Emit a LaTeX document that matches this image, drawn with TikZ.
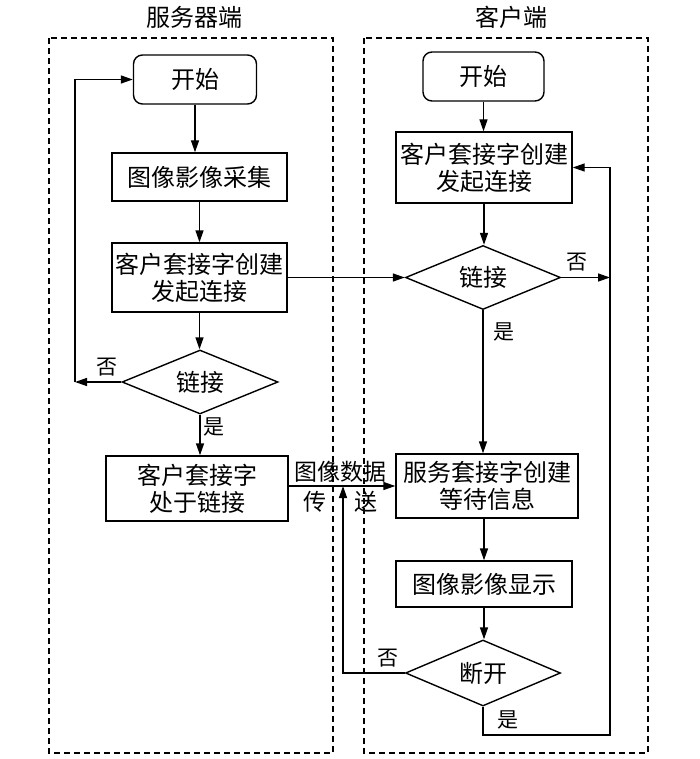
\documentclass[tikz,border=0pt]{standalone}
\usepackage{fontspec}
\setmainfont{Noto Sans CJK SC}
\usetikzlibrary{arrows.meta,shapes.geometric}
\begin{document}
\begin{tikzpicture}[x=1pt,y=-1pt,
  every node/.style={font=\fontsize{24}{27}\selectfont},
  box/.style={draw,line width=1.4pt,inner sep=0pt,align=center},
  startbox/.style={box,rounded corners=9pt},
  dec/.style={draw,line width=1.4pt,diamond,inner sep=0pt,aspect=2.4},
  lbl/.style={font=\fontsize{21}{24}\selectfont,inner sep=0pt},
  conn/.style={line width=1.4pt,-{Triangle[length=12pt,width=8pt]}},
  frame/.style={line width=1.5pt,dash pattern=on 6pt off 4pt}]
\useasboundingbox (0,0) rectangle (700,759);
% frames
\draw[frame] (49,38) rectangle (333,753);
\draw[frame] (364,38) rectangle (648,753);
\node (t1) at (194,17) {服务器端};
\node (t2) at (511,17) {客户端};
% left column
\node[startbox,minimum width=123pt,minimum height=49pt] (s1) at (195,79.5) {开始};
\node[box,minimum width=175pt,minimum height=48pt] (b1) at (199.5,177) {图像影像采集};
\node[box,minimum width=175pt,minimum height=69pt] (b2) at (199.5,277.5) {客户套接字创建\\发起连接};
\node[dec,minimum width=156pt,minimum height=64pt] (d1) at (200,382) {链接};
\node[box,minimum width=182pt,minimum height=65pt] (b3) at (197,488.5) {客户套接字\\处于链接};
% right column
\node[startbox,minimum width=121pt,minimum height=49pt] (s2) at (483.5,76.5) {开始};
\node[box,minimum width=176pt,minimum height=71pt] (r1) at (484,167.5) {客户套接字创建\\发起连接};
\node[dec,minimum width=155pt,minimum height=64pt] (d2) at (483,277.5) {链接};
\node[box,minimum width=182pt,minimum height=64pt] (r2) at (487,486) {服务套接字创建\\等待信息};
\node[box,minimum width=176pt,minimum height=46pt] (r3) at (484,584) {图像影像显示};
\node[dec,minimum width=155pt,minimum height=66pt] (d3) at (483,673) {断开};
% helper coordinates
\coordinate (lx) at (75,382);
\coordinate (rx) at (610,277.5);
\coordinate (bx) at (610,735);
\coordinate (mx) at (343,673);
% left connectors
\draw[conn] (s1.south) -- (s1.south |- b1.north);
\draw[conn] (b1.south) -- (b1.south |- b2.north);
\draw[conn] (b2.south) -- (b2.south |- d1.north);
\draw[conn] (d1.south) -- (d1.south |- b3.north);
\draw[conn] (d1.west) -- (lx);
\draw[conn] (lx) -- (lx |- s1.west) -- (s1.west);
% right connectors
\draw[conn] (s2.south) -- (s2.south |- r1.north);
\draw[conn] (r1.south) -- (r1.south |- d2.north);
\draw[conn] (d2.south) -- (d2.south |- r2.north);
\draw[conn] (r2.south -| r3.north) -- (r3.north);
\draw[conn] (r3.south) -- (r3.south |- d3.north);
\draw[conn] (d2.east) -- (rx);
\draw[conn] (d3.south) -- (d3.south |- bx) -- (bx) -- (bx |- r1.east) -- (r1.east);
% cross connectors
\draw[conn] (b2.east) -- (d2.west);
\draw[conn] (b3.east |- r2.west) -- (r2.west);
\draw[conn] (d3.west) -- (mx) -- (mx |- r2.west);
% labels
\node[lbl] (n1) at (107,367) {否};
\node[lbl] (y1) at (214,427) {是};
\node[lbl] (n2) at (577,262) {否};
\node[lbl] (y2) at (504,332) {是};
\node[lbl] (n3) at (388,658) {否};
\node[lbl] (y3) at (508,720) {是};
\node[lbl,font=\fontsize{23}{26}\selectfont] (m1) at (340,472) {图像数据};
\node[lbl,font=\fontsize{23}{26}\selectfont] (m2) at (315,502) {传};
\node[lbl,font=\fontsize{23}{26}\selectfont] (m3) at (366,502) {送};
\end{tikzpicture}
\end{document}
